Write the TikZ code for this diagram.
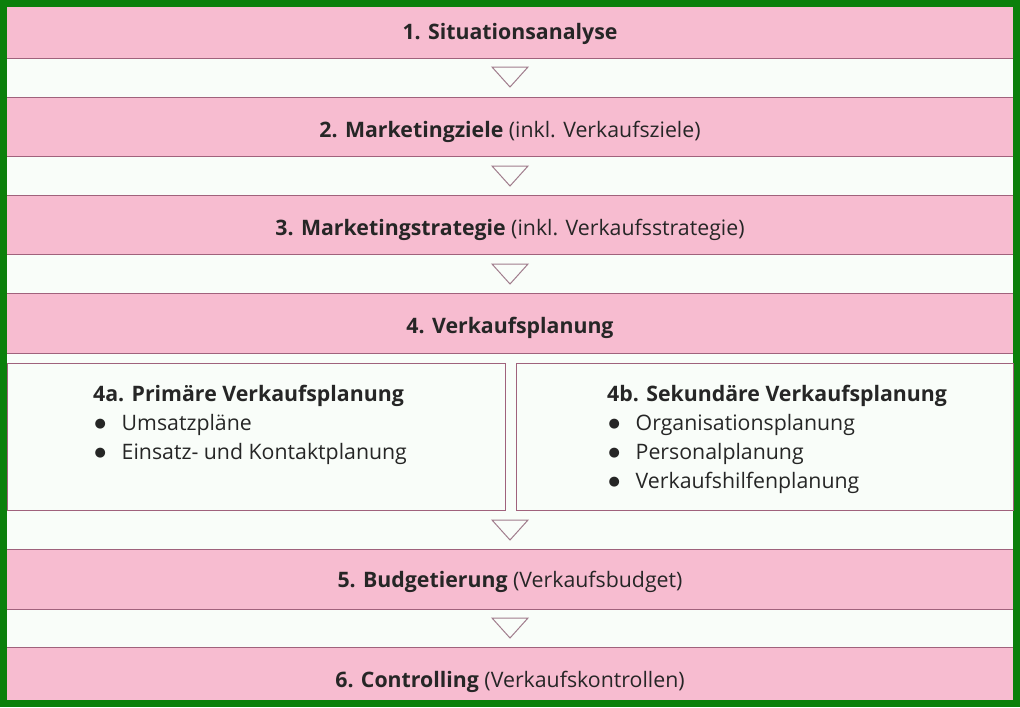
\documentclass[tikz,border=0pt]{standalone}
\usepackage{fontspec}
\setmainfont{Open Sans}
\newfontfamily\symfont{DejaVu Sans}
\usetikzlibrary{positioning}
\definecolor{barpink}{HTML}{F7BCD0}
\definecolor{rulemauve}{HTML}{A0627C}
\definecolor{tripink}{HTML}{A07C8C}
\definecolor{gapwhite}{HTML}{F9FDF9}
\definecolor{framegreen}{HTML}{0B800B}
\definecolor{textgray}{HTML}{262626}
\newcommand{\bul}{\makebox[28.5pt][l]{\hspace{1.5pt}\raisebox{3.5pt}{\symfont\fontsize{13}{13}\selectfont ●}}}

\tikzset{
  bar/.style={rectangle, fill=barpink, minimum width=1006pt, inner sep=0pt},
  bartext/.style={anchor=base, inner sep=0pt, text=textgray,
    font=\fontsize{21.3}{25}\selectfont},
  rule/.style={draw=rulemauve, line width=1pt},
  subbox/.style={rectangle, draw=rulemauve, line width=1pt, fill=gapwhite, inner sep=0pt,
    minimum height=147pt},
  boxtext/.style={anchor=north west, align=left, inner sep=0pt, text=textgray,
    font=\fontsize{21.3}{29}\selectfont},
  tri/.style={draw=tripink, line width=1pt, fill=gapwhite}
}

\begin{document}
\begin{tikzpicture}[x=1pt, y=-1pt]
    \useasboundingbox (0,0) rectangle (1020,707);
    \fill[framegreen] (0,0) rectangle (1020,707);
    \fill[gapwhite] (7,7) rectangle (1013,700);

    % planning steps
    \node[bar, minimum height=51pt] (s1) at (510,32.5) {};
    \node[bar, minimum height=58pt] (s2) at (510,127) {};
    \node[bar, minimum height=58pt] (s3) at (510,225) {};
    \node[bar, minimum height=59pt] (s4) at (510,323.5) {};
    \node[bar, minimum height=59pt] (s5) at (510,579.5) {};
    \node[bar, minimum height=52pt] (s6) at (510,674) {};

    \node[bartext] (l1) at (510,39.3) {\textbf{1. Situationsanalyse}};
    \node[bartext] (l2) at (510,137.3) {\textbf{2. Marketingziele} (inkl. Verkaufsziele)};
    \node[bartext] (l3) at (510,235.3) {\textbf{3. Marketingstrategie} (inkl. Verkaufsstrategie)};
    \node[bartext] (l4) at (510,333.3) {\textbf{4. Verkaufsplanung}};
    \node[bartext] (l5) at (510,587.5) {\textbf{5. Budgetierung} (Verkaufsbudget)};
    \node[bartext] (l6) at (510,687.3) {\textbf{6. Controlling} (Verkaufskontrollen)};

    \foreach \s in {s2,s3,s4,s5,s6}
      \draw[rule] (\s.north west) -- (\s.north east);
    \foreach \s in {s1,s2,s3,s4,s5}
      \draw[rule] (\s.south west) -- (\s.south east);

    % sub plans
    \node[subbox, minimum width=498pt, anchor=north west] (s4a) at (7,363) {};
    \node[subbox, minimum width=497pt, anchor=north west] (s4b) at (516,363) {};
    \node[boxtext] (t4a) at (93,385.3) {\textbf{4a. Primäre Verkaufsplanung}\\
      \bul Umsatzpläne\\
      \bul Einsatz- und Kontaktplanung};
    \node[boxtext] (t4b) at (607,385.3) {\textbf{4b. Sekundäre Verkaufsplanung}\\
      \bul Organisationsplanung\\
      \bul Personalplanung\\
      \bul Verkaufshilfenplanung};

    % arrows
    \foreach \y in {67,166,264,520,618}
      \draw[tri] (492,\y) -- (528,\y) -- (510,\y+20) -- cycle;
\end{tikzpicture}
\end{document}
